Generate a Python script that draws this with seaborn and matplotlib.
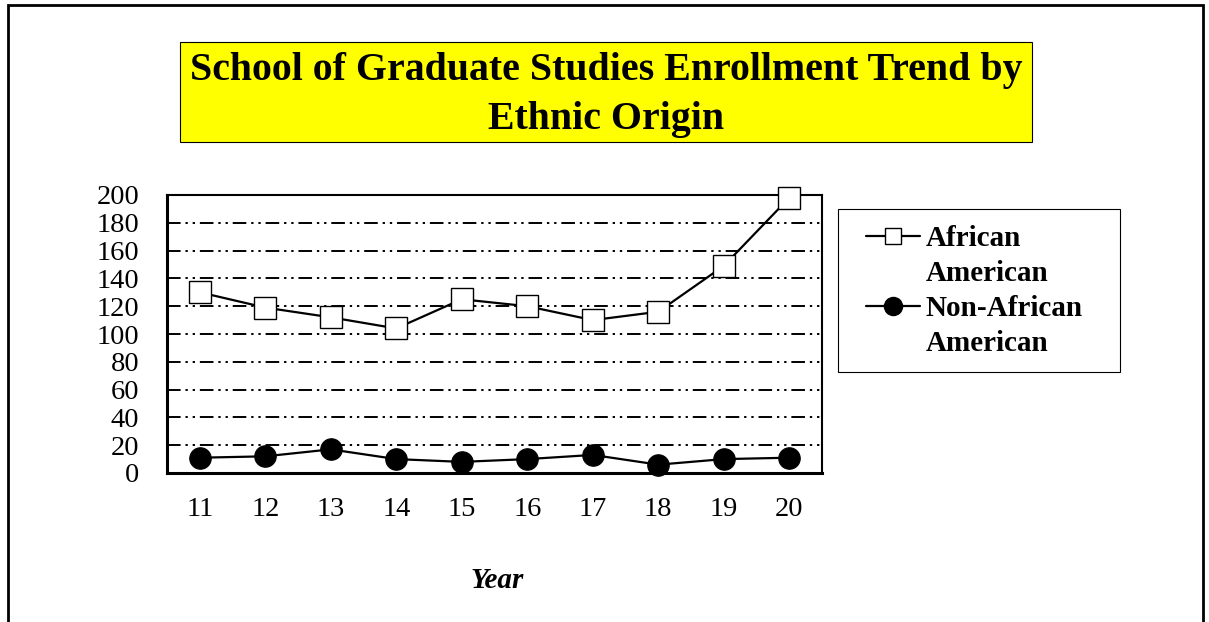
import matplotlib
matplotlib.use("Agg")
import matplotlib.pyplot as plt
from matplotlib.patches import Rectangle
from matplotlib.lines import Line2D
import seaborn as sns
import pandas as pd

years = ["11", "12", "13", "14", "15", "16", "17", "18", "19", "20"]
african_american = [130, 119, 112, 104, 125, 120, 110, 116, 149, 198]
non_african_american = [11, 12, 17, 10, 8, 10, 13, 6, 10, 11]
legend_lines = ["African", "American", "Non-African", "American"]
y_ticks = [0, 20, 40, 60, 80, 100, 120, 140, 160, 180, 200]

sns.set_theme(style="white")
plt.rcParams["font.family"] = ["Liberation Serif", "DejaVu Serif"]
plt.rcParams["text.color"] = "black"
plt.rcParams["xtick.color"] = "black"
plt.rcParams["ytick.color"] = "black"

fig = plt.figure(figsize=(12.09, 6.22), dpi=100)
W, H = 1209, 622
ax = fig.add_axes([167 / W, 1 - 473 / H, (822 - 167) / W, (473 - 195) / H])

df = pd.DataFrame({"Year": years, "AA": african_american, "NAA": non_african_american})

sns.lineplot(data=df, x="Year", y="AA", ax=ax, color="black", lw=1.6,
             marker="s", markersize=15.5, markerfacecolor="white",
             markeredgecolor="black", markeredgewidth=1.0, sort=False,
             zorder=4, clip_on=False)
sns.lineplot(data=df, x="Year", y="NAA", ax=ax, color="black", lw=1.6,
             marker="o", markersize=15.5, markerfacecolor="black",
             markeredgecolor="black", sort=False, zorder=4, clip_on=False)

ax.set_xlim(-0.5, len(years) - 0.5)
ax.set_ylim(0, 200)
ax.set_yticks(y_ticks)
ax.set_yticklabels([str(v) for v in y_ticks], fontsize=20.5)
ax.set_xticks(range(len(years)))
ax.set_xticklabels(years, fontsize=20.5)
ax.tick_params(axis="both", length=0)
ax.tick_params(axis="y", pad=20)
ax.tick_params(axis="x", pad=17)
ax.set_xlabel("")
ax.set_ylabel("")

for v in y_ticks[1:]:
    ax.axhline(v, color="black", lw=1.4, linestyle=(0, (7, 2.5, 1.2, 2.5, 1.2, 2.5)), zorder=1)

for s in ["left", "bottom"]:
    ax.spines[s].set_color("black")
    ax.spines[s].set_linewidth(2.2)
for s in ["top", "right"]:
    ax.spines[s].set_color("black")
    ax.spines[s].set_linewidth(1.5)

fig.text(497 / W, 1 - 580 / H, "Year", fontsize=21, fontweight="bold",
         fontstyle="italic", ha="center", va="center")

# Title box
fig.patches.append(Rectangle((180 / W, 1 - 142 / H), 852 / W, 100 / H,
                             transform=fig.transFigure, facecolor="#ffff00",
                             edgecolor="black", lw=0.8, zorder=0))
fig.text(606 / W, 1 - 95 / H, "School of Graduate Studies Enrollment Trend by\nEthnic Origin",
         fontsize=28.7, fontweight="bold", ha="center", va="center", linespacing=1.4)

# Figure border
fig.patches.append(Rectangle((8 / W, -0.05), (1203 - 8) / W, 1 - 5 / H + 0.05,
                             transform=fig.transFigure, facecolor="none",
                             edgecolor="black", lw=2.0, zorder=0))

# Legend frame
fig.patches.append(Rectangle((838 / W, 1 - 372 / H), 282 / W, 163 / H,
                             transform=fig.transFigure, facecolor="white",
                             edgecolor="black", lw=0.8, zorder=0))

blank = Line2D([], [], lw=0, marker=None)
handles = [
    Line2D([], [], color="black", lw=1.6, marker="s", markersize=12,
           markerfacecolor="white", markeredgecolor="black", markeredgewidth=1.0),
    blank,
    Line2D([], [], color="black", lw=1.6, marker="o", markersize=13,
           markerfacecolor="black", markeredgecolor="black"),
    blank,
]
leg = fig.legend(handles, legend_lines, loc="upper left",
                 bbox_to_anchor=(866 / W, 1 - 225 / H),
                 frameon=False, handlelength=1.85,
                 handletextpad=0.2, borderpad=0.0, borderaxespad=0.0,
                 labelspacing=0.27,
                 prop={"size": 21, "weight": "bold"})

fig.savefig("out.png", dpi=100)
